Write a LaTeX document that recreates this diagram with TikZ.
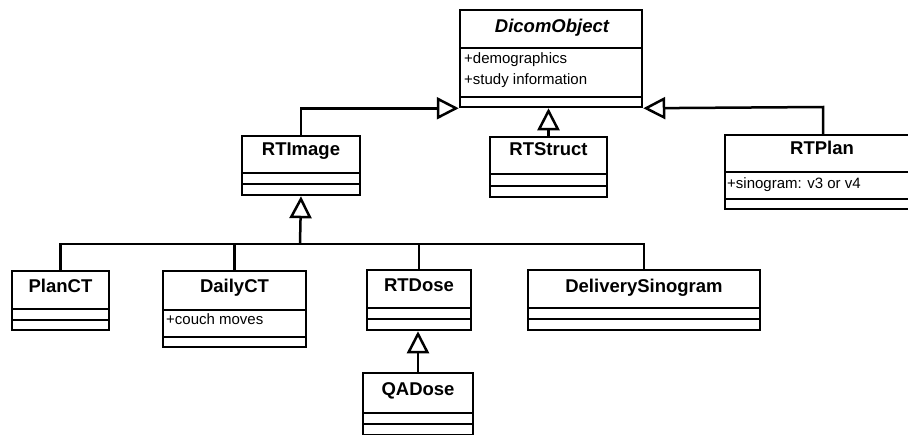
\documentclass[tikz,border=0pt]{standalone}
\usepackage{fontspec}
\setmainfont{Liberation Sans}
\usetikzlibrary{arrows.meta,calc}
\tikzset{
  box/.style={draw, line width=2.5pt, rectangle, inner sep=0pt, fill=white},
  boxline/.style={line width=2.5pt},
  titletext/.style={inner sep=0pt, anchor=base, font=\fontsize{18.5}{20}\selectfont\bfseries},
  attrtext/.style={inner sep=0pt, anchor=base west, font=\fontsize{15}{17}\selectfont},
  conn/.style={line width=2.5pt, line join=miter},
  gen/.style={conn, -{Triangle[open, length=22pt, width=22pt, fill=white]}},
}
\newcommand{\classbox}[7]{%
  \node[box, minimum width={#4-#2}, minimum height={#5-#3}] (#1) at ({(#2+#4)/2},{(#3+#5)/2}) {};
  \draw[boxline] (#2,#6) -- (#4,#6);
  \draw[boxline] (#2,#7) -- (#4,#7);
}
\begin{document}
\begin{tikzpicture}[x=1pt,y=-1pt]
\useasboundingbox (0,0) rectangle (908,434);

% class boxes
\classbox{dicom}{460}{10}{642}{107}{48}{97}
\classbox{rtimage}{242}{136}{360}{195}{173}{184}
\classbox{rtstruct}{490}{137}{607}{197}{174}{186}
\classbox{planct}{12}{271}{109}{330}{309}{320}
\classbox{dailyct}{163}{271}{306}{347}{310}{337}
\classbox{rtdose}{367}{270}{471}{330}{308}{319}
\classbox{delivery}{528}{270}{760}{330}{308}{319}
\classbox{qadose}{363}{373}{473}{435}{413}{424}
% RTPlan runs off the right edge of the picture
\node[inner sep=0pt, outer sep=0pt, minimum width=183pt, minimum height=74pt] (rtplan) at (816.5,172) {};
\draw[boxline, line join=miter] (rtplan.north east) -- (rtplan.north west) -- (rtplan.south west) -- (rtplan.south east);
\draw[boxline] (725,172) -- (908,172);
\draw[boxline] (725,199) -- (908,199);

% titles
\node[titletext, font=\fontsize{18.5}{20}\selectfont\bfseries\itshape] (dicom-t) at (552,32) {DicomObject};
\node[titletext] (rtimage-t) at (301,155) {RTImage};
\node[titletext] (rtstruct-t) at (548.5,155) {RTStruct};
\node[titletext] (rtplan-t) at (822,154) {RTPlan};
\node[titletext] (planct-t) at (60.5,292) {PlanCT};
\node[titletext] (dailyct-t) at (234.5,292) {DailyCT};
\node[titletext] (rtdose-t) at (419,291) {RTDose};
\node[titletext] (delivery-t) at (644,292) {DeliverySinogram};
\node[titletext] (qadose-t) at (418,395) {QADose};

% attributes
\node[attrtext] (dicom-a1) at (464,63) {+demographics};
\node[attrtext] (dicom-a2) at (464,84) {+study information};
\node[attrtext] (rtplan-a1) at (727,188) {+sinogram: v3 or v4};
\node[attrtext] (dailyct-a1) at (166,324) {+couch moves};

% generalisations to DicomObject
\draw[gen] (rtimage.north) |- (dicom.south west);
\draw[gen] (rtstruct.north) -- (rtstruct.north |- dicom.south);
\coordinate (planturn) at (823,107);
\draw[gen] (planturn |- rtplan.north) -- (planturn) -- (dicom.south east);

% generalisations to RTImage
\coordinate (trunk) at (300,244);
\draw[gen] (trunk) -- (rtimage.south);
\draw[conn] (planct.north) |- (delivery.north |- trunk) -- (delivery.north);
\draw[conn] (dailyct.north) -- (dailyct.north |- trunk);
\draw[conn] (rtdose.north) -- (rtdose.north |- trunk);

% QADose to RTDose
\draw[gen] (qadose.north) -- (qadose.north |- rtdose.south);
\end{tikzpicture}
\end{document}
